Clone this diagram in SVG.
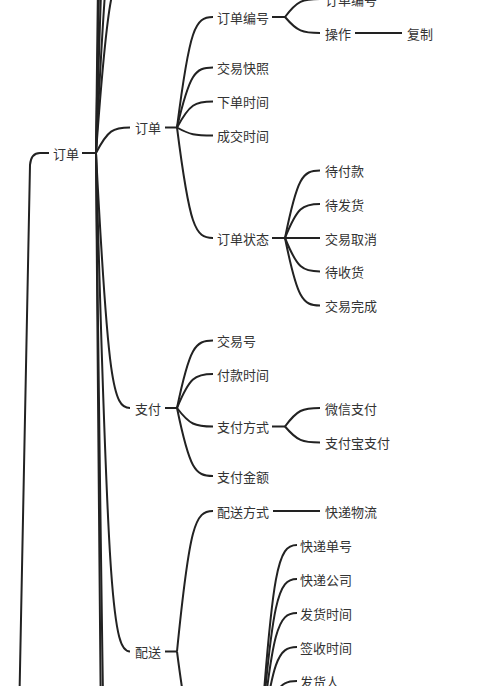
<svg xmlns="http://www.w3.org/2000/svg" width="500" height="686" viewBox="0 0 500 686">
<style>
.c{fill:none;stroke:#222;stroke-width:2}
text{font-family:"Noto Sans CJK SC","Noto Sans",sans-serif;font-size:13px;fill:#333;dominant-baseline:central}
</style>
<rect width="500" height="686" fill="#fff"/>
<g id="connectors">
<path class="c" d="M49,153 L40,153 Q31,153 30,165 L19,720"/>
<path class="c" d="M82,153 L96,153"/>
<path class="c" d="M96,153 C107.9,130 113,127.5 130,127.5"/>
<path class="c" d="M96,153 C107.9,382.5 113,408 130,408"/>
<path class="c" d="M96,153 C107.9,601.7 113,651.5 130,651.5"/>
<path class="c" d="M96,153 C107.9,-11.7 113,-30 130,-30"/>
<path class="c" d="M96,153 C107.9,-92.7 113,-120 130,-120"/>
<path class="c" d="M96,153 C107.9,-257.7 113,-300 130,-300"/>
<path class="c" d="M96,153 C107.9,-527.7 113,-600 130,-600"/>
<path class="c" d="M96,153 C107.9,-887.7 113,-1000 130,-1000"/>
<path class="c" d="M96,153 C107.9,1185.3 113,1300 130,1300"/>
<path class="c" d="M96,153 C107.9,1635.3 113,1800 130,1800"/>
<path class="c" d="M165,127.5 L177,127.5"/>
<path class="c" d="M177,127.5 C189.6,28.05 195,17 213,17"/>
<path class="c" d="M177,127.5 C189.6,73.5 195,67.5 213,67.5"/>
<path class="c" d="M177,127.5 C189.6,104.1 195,101.5 213,101.5"/>
<path class="c" d="M177,127.5 C189.6,134.7 195,135.5 213,135.5"/>
<path class="c" d="M177,127.5 C189.6,226.95 195,238 213,238"/>
<path class="c" d="M272,17 L285,17"/>
<path class="c" d="M285,17 C297.25,0.8 302.5,-1 320,-1"/>
<path class="c" d="M285,17 C297.25,31.4 302.5,33 320,33"/>
<path class="c" d="M355,33 L402,33"/>
<path class="c" d="M272,238 L285,238"/>
<path class="c" d="M285,238 C297.25,177.25 302.5,170.5 320,170.5"/>
<path class="c" d="M285,238 C297.25,207.4 302.5,204 320,204"/>
<path class="c" d="M285,238 L320,238"/>
<path class="c" d="M285,238 C297.25,268.15 302.5,271.5 320,271.5"/>
<path class="c" d="M285,238 C297.25,298.75 302.5,305.5 320,305.5"/>
<path class="c" d="M165,408 L177,408"/>
<path class="c" d="M177,408 C189.6,347.25 195,340.5 213,340.5"/>
<path class="c" d="M177,408 C189.6,377.4 195,374 213,374"/>
<path class="c" d="M177,408 C189.6,424.65 195,426.5 213,426.5"/>
<path class="c" d="M177,408 C189.6,469.2 195,476 213,476"/>
<path class="c" d="M272,426.5 L285,426.5"/>
<path class="c" d="M285,426.5 C297.25,409.85 302.5,408 320,408"/>
<path class="c" d="M285,426.5 C297.25,440.9 302.5,442.5 320,442.5"/>
<path class="c" d="M165,651.5 L177,651.5"/>
<path class="c" d="M177,651.5 C189.6,525.05 195,511 213,511"/>
<path class="c" d="M177,651.5 C189.6,749.15 195,760 213,760"/>
<path class="c" d="M273,511 L320,511"/>
<path class="c" d="M259,760 C272.3,566.5 278,545 297,545"/>
<path class="c" d="M259,760 C272.3,597 278,579 297,579"/>
<path class="c" d="M259,760 C272.3,627.6 278,613 297,613"/>
<path class="c" d="M259,760 C272.3,658.2 278,647 297,647"/>
<path class="c" d="M259,760 C272.3,688.9 278,681 297,681"/>
</g>
<g id="n-order-root"><text x="53" y="153">订单</text></g>
<g id="n-order"><text x="135" y="127.5">订单</text></g>
<g id="n-order-no"><text x="217" y="17">订单编号</text></g>
<g id="n-order-no-val"><text x="325" y="-1">订单编号</text></g>
<g id="n-op"><text x="325" y="33">操作</text></g>
<g id="n-copy"><text x="407" y="33">复制</text></g>
<g id="n-snapshot"><text x="217" y="67.5">交易快照</text></g>
<g id="n-order-time"><text x="217" y="101.5">下单时间</text></g>
<g id="n-deal-time"><text x="217" y="135.5">成交时间</text></g>
<g id="n-status"><text x="217" y="238">订单状态</text></g>
<g id="n-s1"><text x="325" y="170.5">待付款</text></g>
<g id="n-s2"><text x="325" y="204">待发货</text></g>
<g id="n-s3"><text x="325" y="238">交易取消</text></g>
<g id="n-s4"><text x="325" y="271.5">待收货</text></g>
<g id="n-s5"><text x="325" y="305.5">交易完成</text></g>
<g id="n-pay"><text x="135" y="408">支付</text></g>
<g id="n-trade-no"><text x="217" y="340.5">交易号</text></g>
<g id="n-pay-time"><text x="217" y="374">付款时间</text></g>
<g id="n-pay-method"><text x="217" y="426.5">支付方式</text></g>
<g id="n-wechat"><text x="325" y="408">微信支付</text></g>
<g id="n-alipay"><text x="325" y="442.5">支付宝支付</text></g>
<g id="n-pay-amount"><text x="217" y="476">支付金额</text></g>
<g id="n-ship"><text x="135" y="651.5">配送</text></g>
<g id="n-ship-method"><text x="217" y="511">配送方式</text></g>
<g id="n-express"><text x="325" y="511">快递物流</text></g>
<g id="n-ex-no"><text x="300" y="545">快递单号</text></g>
<g id="n-ex-co"><text x="300" y="579">快递公司</text></g>
<g id="n-ship-time"><text x="300" y="613">发货时间</text></g>
<g id="n-sign-time"><text x="300" y="647">签收时间</text></g>
<g id="n-sender"><text x="300" y="681">发货人</text></g>
</svg>
